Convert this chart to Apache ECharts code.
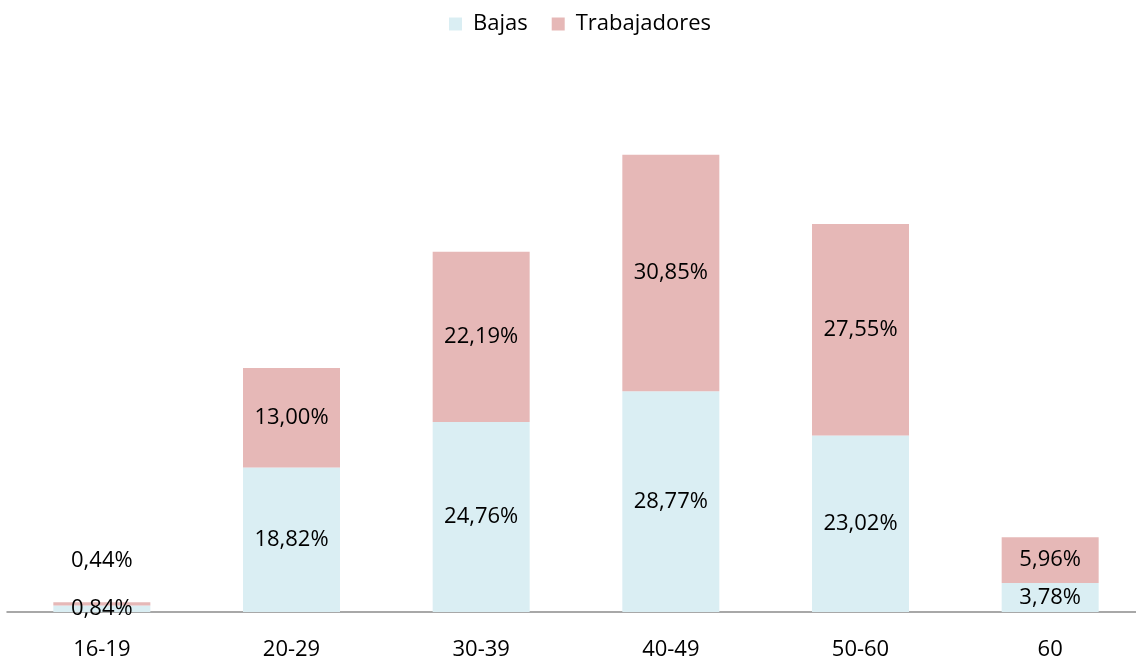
<!DOCTYPE html>
<html>
<head>
<meta charset="utf-8">
<script src="https://cdn.jsdelivr.net/npm/echarts@6/dist/echarts.min.js"></script>
<style>
  html, body { margin: 0; padding: 0; background: #fff; }
  #chart { width: 1136px; height: 660px; }
</style>
</head>
<body>
<div id="chart"></div>
<script>
// rangos de edad
var categorias = ["16-19", "20-29", "30-39", "40-49", "50-60", "60"];
var bajas = [0.84, 18.82, 24.76, 28.77, 23.02, 3.78];
var trabajadores = [0.44, 13.00, 22.19, 30.85, 27.55, 5.96];

var fuente = "Open Sans";
var tam = 22;

function fmt(v) {
  return v.toFixed(2).replace(".", ",") + "%";
}

var myChart = echarts.init(document.getElementById("chart"));

var datosTrab = trabajadores.map(function (v, i) {
  if (i === 0) {
    return { value: v, label: { position: "top", distance: 30 } };
  }
  return v;
});

var option = {
  animation: false,
  textStyle: { fontFamily: fuente },
  legend: {
    top: 8,
    left: 444,
    itemWidth: 13,
    itemHeight: 13,
    itemGap: 24,
    icon: "rect",
    textStyle: { fontSize: tam, color: "#000", fontFamily: fuente, padding: [0, 0, 0, 6] },
    data: ["Bajas", "Trabajadores"]
  },
  grid: {
    left: 7,
    width: 1138,
    top: 75,
    bottom: 48,
    outerBoundsMode: "none",
    containLabel: false
  },
  xAxis: {
    type: "category",
    data: categorias,
    axisLine: { lineStyle: { color: "#8c8c8c", width: 1.5 } },
    axisTick: { show: false },
    axisLabel: { fontSize: tam, color: "#000", margin: 27, fontFamily: fuente }
  },
  yAxis: {
    type: "value",
    min: 0,
    max: 70,
    show: false,
    splitLine: { show: false }
  },
  series: [
    {
      name: "Bajas",
      type: "bar",
      stack: "total",
      barWidth: 97,
      itemStyle: { color: "#daeef3" },
      label: {
        show: true,
        position: "inside",
        fontSize: tam,
        color: "#000",
        fontFamily: fuente,
        formatter: function (p) { return fmt(p.value); }
      },
      data: bajas
    },
    {
      name: "Trabajadores",
      type: "bar",
      stack: "total",
      barWidth: 97,
      itemStyle: { color: "#e6b8b7" },
      label: {
        show: true,
        position: "inside",
        fontSize: tam,
        color: "#000",
        fontFamily: fuente,
        formatter: function (p) { return fmt(p.value); }
      },
      data: datosTrab
    }
  ]
};

myChart.setOption(option);
</script>
</body>
</html>
